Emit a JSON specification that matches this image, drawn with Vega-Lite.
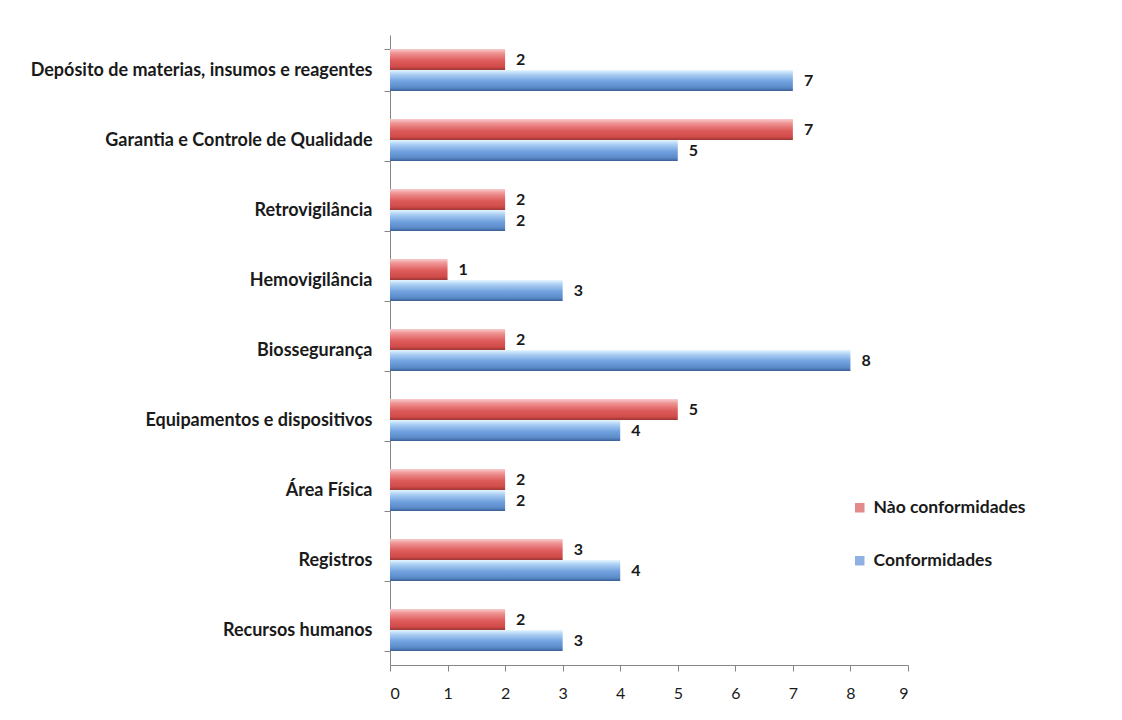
{
  "$schema": "https://vega.github.io/schema/vega-lite/v6.json",
  "width": 518,
  "height": 630,
  "autosize": {"type": "none"},
  "padding": {"left": 390, "top": 35, "right": 214, "bottom": 55},
  "background": "white",
  "config": {
    "view": {"stroke": null},
    "font": "Lato",
    "axis": {"domainColor": "#868686", "tickColor": "#868686", "grid": false, "labelColor": "#1a1a1a", "title": null}
  },
  "data": {
    "values": [
      {"area": "Depósito de materias, insumos e reagentes", "serie": "Nào conformidades", "n": 2},
      {"area": "Depósito de materias, insumos e reagentes", "serie": "Conformidades", "n": 7},
      {"area": "Garantia e Controle de Qualidade", "serie": "Nào conformidades", "n": 7},
      {"area": "Garantia e Controle de Qualidade", "serie": "Conformidades", "n": 5},
      {"area": "Retrovigilância", "serie": "Nào conformidades", "n": 2},
      {"area": "Retrovigilância", "serie": "Conformidades", "n": 2},
      {"area": "Hemovigilância", "serie": "Nào conformidades", "n": 1},
      {"area": "Hemovigilância", "serie": "Conformidades", "n": 3},
      {"area": "Biossegurança", "serie": "Nào conformidades", "n": 2},
      {"area": "Biossegurança", "serie": "Conformidades", "n": 8},
      {"area": "Equipamentos e dispositivos", "serie": "Nào conformidades", "n": 5},
      {"area": "Equipamentos e dispositivos", "serie": "Conformidades", "n": 4},
      {"area": "Área Física", "serie": "Nào conformidades", "n": 2},
      {"area": "Área Física", "serie": "Conformidades", "n": 2},
      {"area": "Registros", "serie": "Nào conformidades", "n": 3},
      {"area": "Registros", "serie": "Conformidades", "n": 4},
      {"area": "Recursos humanos", "serie": "Nào conformidades", "n": 2},
      {"area": "Recursos humanos", "serie": "Conformidades", "n": 3}
    ]
  },
  "encoding": {
    "y": {
      "field": "area",
      "type": "nominal",
      "sort": null,
      "scale": {"paddingInner": 0.4, "paddingOuter": 0.2},
      "axis": {
        "tickBand": "extent",
        "tickSize": 6,
        "labelPadding": 12,
        "labelFontSize": 18,
        "labelFontWeight": "bold",
        "labelLimit": 400
      }
    },
    "yOffset": {
      "field": "serie",
      "type": "nominal",
      "scale": {"domain": ["Nào conformidades", "Conformidades"]}
    },
    "x": {
      "field": "n",
      "type": "quantitative",
      "scale": {"domain": [0, 9], "nice": false},
      "axis": {
        "values": [0, 1, 2, 3, 4, 5, 6, 7, 8, 9],
        "tickSize": 6,
        "labelPadding": 14,
        "labelFontSize": 16,
        "labelColor": "#1a1a1a"
      }
    }
  },
  "layer": [
    {
      "transform": [{"filter": "datum.serie === 'Nào conformidades'"}],
      "mark": {
        "type": "bar",
        "fill": {"gradient": "linear", "x1": 0, "y1": 0, "x2": 0, "y2": 1, "stops": [
          {"offset": 0, "color": "#f8cccc"},
          {"offset": 0.2, "color": "#ef9494"},
          {"offset": 0.55, "color": "#de5c5c"},
          {"offset": 0.85, "color": "#d04b49"},
          {"offset": 1, "color": "#9a3534"}
        ]}
      }
    },
    {
      "transform": [{"filter": "datum.serie === 'Conformidades'"}],
      "mark": {
        "type": "bar",
        "fill": {"gradient": "linear", "x1": 0, "y1": 0, "x2": 0, "y2": 1, "stops": [
          {"offset": 0, "color": "#e6f6ff"},
          {"offset": 0.2, "color": "#aed1f5"},
          {"offset": 0.55, "color": "#71a1de"},
          {"offset": 0.85, "color": "#5b8ac8"},
          {"offset": 1, "color": "#3a5f96"}
        ]}
      }
    },
    {
      "mark": {"type": "square", "size": 0, "filled": true},
      "encoding": {
        "color": {
          "field": "serie",
          "type": "nominal",
          "scale": {"domain": ["Nào conformidades", "Conformidades"], "range": ["#d95858", "#5f8fd3"]},
          "legend": {
            "title": null,
            "orient": "none",
            "legendX": 461,
            "legendY": 464,
            "symbolType": "square",
            "symbolSize": 90,
            "symbolStrokeWidth": 0,
            "labelFontSize": 17.5,
            "labelFontWeight": "bold",
            "labelColor": "#1a1a1a",
            "labelOffset": 5,
            "rowPadding": 34
          }
        }
      }
    },
    {
      "mark": {"type": "text", "align": "left", "baseline": "middle", "dx": 11, "fontSize": 16, "fontWeight": "bold", "color": "#1a1a1a"},
      "encoding": {"text": {"field": "n", "type": "quantitative"}}
    }
  ]
}
